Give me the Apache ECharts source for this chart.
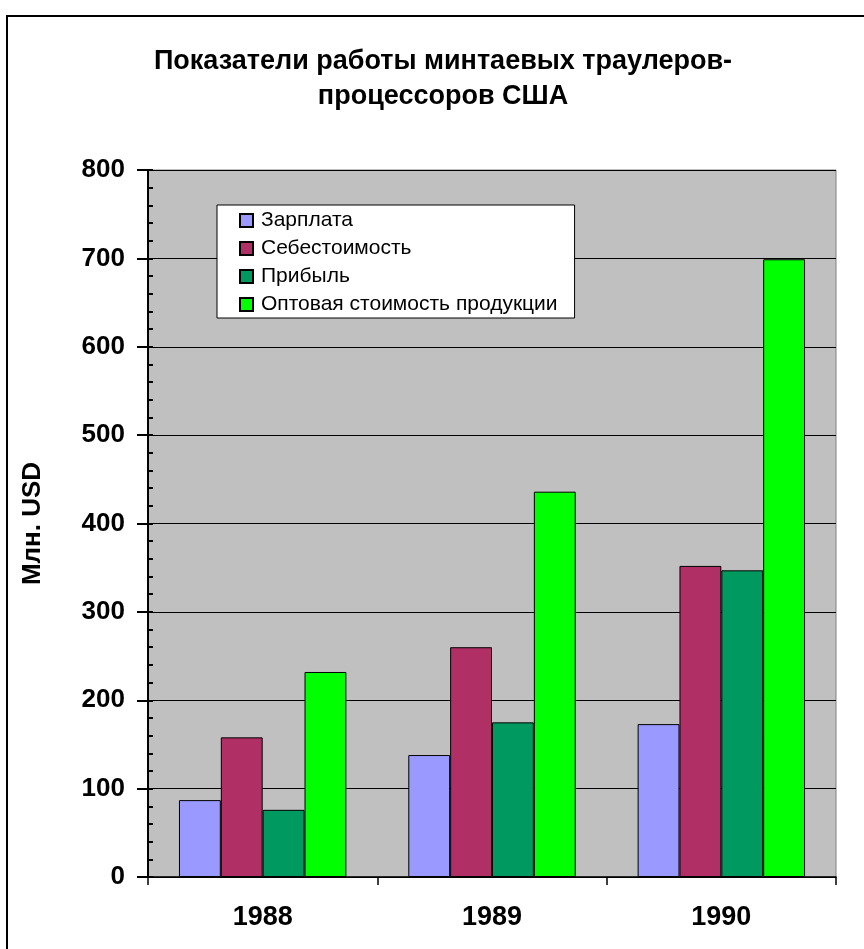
<!DOCTYPE html>
<html>
<head>
<meta charset="utf-8">
<script src="https://cdn.jsdelivr.net/npm/echarts@6/dist/echarts.min.js"></script>
<style>
  html, body { margin: 0; padding: 0; background: #fff; }
  #chart { width: 864px; height: 949px; }
</style>
</head>
<body>
<div id="chart"></div>
<script>
// данные с картинки, млн. USD
const years = ['1988', '1989', '1990']
const zarplata = [87, 138, 173]
const sebestoimost = [158, 260, 352]
const pribyl = [76, 175, 347]
const optovaya = [232, 436, 699]
const seriesNames = ['Зарплата', 'Себестоимость', 'Прибыль', 'Оптовая стоимость продукции']
const seriesColors = ['#9999FF', '#B03066', '#009A60', '#00FF00']
const yTicks = [0, 100, 200, 300, 400, 500, 600, 700, 800]

const font = 'Arial, "Liberation Sans", sans-serif'
const chart = echarts.init(document.getElementById('chart'))

const valueSets = [zarplata, sebestoimost, pribyl, optovaya]
const seriesArr = valueSets.map((vals, i) => {
  return {
    name: seriesNames[i],
    type: 'bar',
    yAxisIndex: 0,
    data: vals,
    barGap: '0%',
    barCategoryGap: '27%',
    itemStyle: {
      color: seriesColors[i],
      borderColor: '#000',
      borderWidth: 1
    },
    emphasis: { disabled: true }
  }
})

const option = {
  backgroundColor: '#fff',
  animation: false,
  title: {
    text: 'Показатели работы минтаевых траулеров-\nпроцессоров США',
    left: 438,
    top: 39,
    textAlign: 'center',
    textStyle: {
      fontFamily: font,
      fontWeight: 'bold',
      fontSize: 27,
      lineHeight: 35,
      color: '#000'
    }
  },
  legend: {
    orient: 'vertical',
    left: 217,
    top: 205,
    data: seriesNames,
    backgroundColor: '#fff',
    borderColor: '#000',
    borderWidth: 1,
    padding: [5, 17, 3, 22],
    itemGap: 7,
    itemWidth: 13,
    itemHeight: 13,
    icon: 'rect',
    selectedMode: false,
    textStyle: {
      fontFamily: font,
      fontSize: 21,
      color: '#000',
      padding: [0, 0, 0, 3]
    }
  },
  grid: {
    left: 148,
    right: 28,
    top: 170,
    bottom: 72,
    show: true,
    backgroundColor: '#C0C0C0',
    borderColor: '#808080',
    borderWidth: 1
  },
  xAxis: {
    type: 'category',
    data: years,
    boundaryGap: true,
    axisLine: { lineStyle: { color: '#000', width: 1.5 } },
    axisTick: { show: true, length: 8, lineStyle: { color: '#000', width: 1.5 } },
    axisLabel: {
      margin: 27,
      fontFamily: font,
      fontWeight: 'bold',
      fontSize: 27,
      color: '#000'
    }
  },
  yAxis: [
    {
      type: 'value',
      min: yTicks[0],
      max: yTicks[yTicks.length - 1],
      interval: 100,
      name: 'Млн. USD',
      nameLocation: 'middle',
      nameGap: 102,
      nameTextStyle: {
        fontFamily: font,
        fontWeight: 'bold',
        fontSize: 26,
        color: '#000'
      },
      axisLine: { show: true, lineStyle: { color: '#000', width: 2 } },
      axisTick: { show: true, length: 11, lineStyle: { color: '#000', width: 2 } },
      axisLabel: {
        margin: 23,
        fontFamily: font,
        fontWeight: 'bold',
        fontSize: 26,
        color: '#000'
      },
      splitLine: { show: true, lineStyle: { color: '#000', width: 1 } }
    },
    {
      // внутренние засечки (основные и промежуточные)
      type: 'value',
      position: 'left',
      min: yTicks[0],
      max: yTicks[yTicks.length - 1],
      interval: 100,
      axisLine: { show: false },
      axisTick: { show: true, inside: true, length: 5, lineStyle: { color: '#000', width: 2 } },
      minorTick: { show: true, splitNumber: 5, length: 5, lineStyle: { color: '#000', width: 2 } },
      axisLabel: { show: false },
      splitLine: { show: false }
    }
  ],
  graphic: [
    {
      type: 'rect',
      shape: { x: 7, y: 16, width: 900, height: 1000 },
      style: { fill: 'none', stroke: '#000', lineWidth: 2 },
      silent: true
    }
  ],
  series: seriesArr
}

chart.setOption(option)
</script>
</body>
</html>
